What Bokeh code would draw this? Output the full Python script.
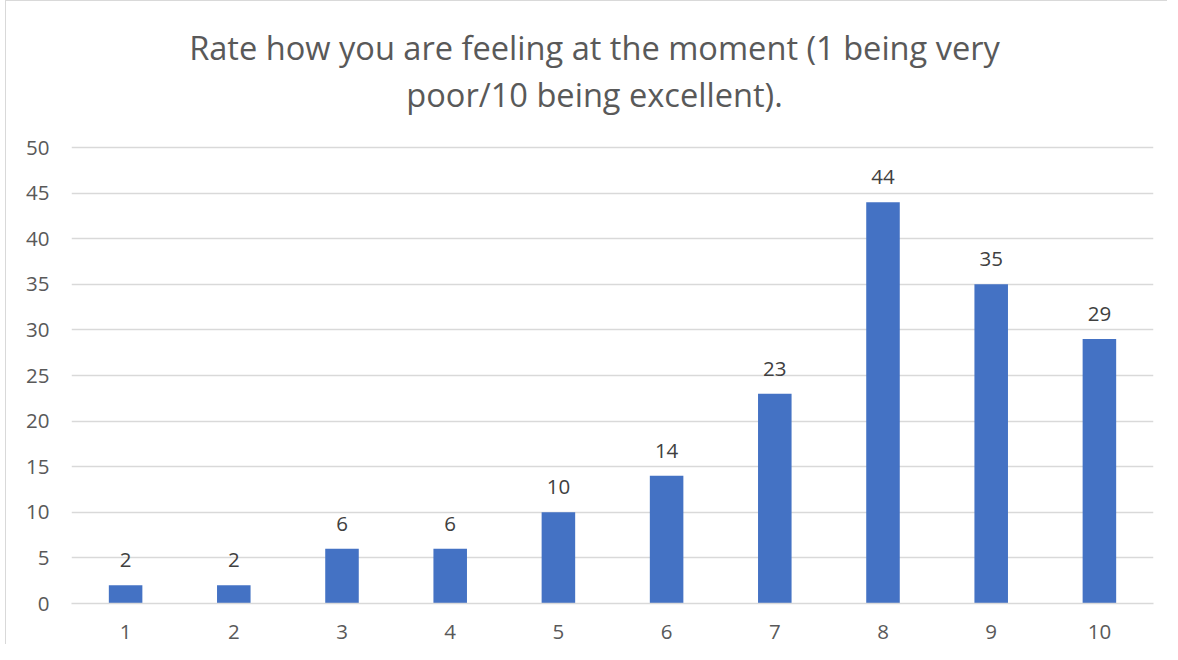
from bokeh.plotting import figure
from bokeh.models import ColumnDataSource, FactorRange, Range1d, FixedTicker, LabelSet, Label
from bokeh.core.properties import value
from bokeh.embed import file_html
from bokeh.resources import INLINE

categories = ["1", "2", "3", "4", "5", "6", "7", "8", "9", "10"]
counts = [2, 2, 6, 6, 10, 14, 23, 44, 35, 29]
title_line1 = "Rate how you are feeling at the moment (1 being very"
title_line2 = "poor/10 being excellent)."
y_ticks = [0, 5, 10, 15, 20, 25, 30, 35, 40, 45, 50]

FONT = "Open Sans"
GRAY = "#595959"
LABEL_SIZE = "20.5px"

# layout (pixels): frame spans 596 px tall, value axis 0..50 covers the lower 456 px
FRAME_H = 596
AXIS_H = 456
y_top = 50 * FRAME_H / AXIS_H
ppu = AXIS_H / 50.0

src = ColumnDataSource(dict(cat=categories, val=counts, lab=[str(v) for v in counts]))

p = figure(width=1162, height=644, x_range=FactorRange(*categories, range_padding=0),
           y_range=Range1d(0, y_top), output_backend="svg", toolbar_location=None,
           title_location=None,
           min_border_left=65, min_border_right=15, min_border_bottom=42, min_border_top=6)

p.vbar(x="cat", top="val", width=0.31, source=src, fill_color="#4472C4", line_color=None)

labels = LabelSet(x="cat", y="val", text="lab", source=src, text_align="center",
                  text_baseline="bottom", y_offset=18, text_font=value(FONT),
                  text_font_size=LABEL_SIZE, text_color="#404040")
p.add_layout(labels)

# title lines: centred over the whole chart, baselines given in px above the zero line
title_x = 4.834
for txt, base_px in [(title_line1, 556), (title_line2, 509)]:
    p.add_layout(Label(x=title_x, y=base_px / ppu, text=txt, text_align="center",
                       text_baseline="alphabetic", text_font=FONT,
                       text_font_size="32.6px", text_color=GRAY))

p.yaxis.ticker = FixedTicker(ticks=y_ticks)
p.yaxis.axis_line_color = None
p.yaxis.major_tick_line_color = None
p.yaxis.minor_tick_line_color = None
p.yaxis.major_label_text_font = FONT
p.yaxis.major_label_text_font_size = LABEL_SIZE
p.yaxis.major_label_text_color = GRAY
p.yaxis.major_label_standoff = 16

p.xaxis.axis_line_color = "#d9d9d9"
p.xaxis.axis_line_width = 1.5
p.xaxis.major_tick_line_color = None
p.xaxis.minor_tick_line_color = None
p.xaxis.major_label_text_font = FONT
p.xaxis.major_label_text_font_size = LABEL_SIZE
p.xaxis.major_label_text_color = GRAY
p.xaxis.major_label_standoff = 15

p.xgrid.grid_line_color = None
p.ygrid.grid_line_color = "#d9d9d9"
p.ygrid.grid_line_width = 1.5
p.outline_line_color = None
p.styles = {"border-left": "1px solid #d9d9d9", "border-top": "1px solid #d9d9d9",
            "margin-left": "5px"}

open("out.html", "w").write(file_html(p, INLINE))
